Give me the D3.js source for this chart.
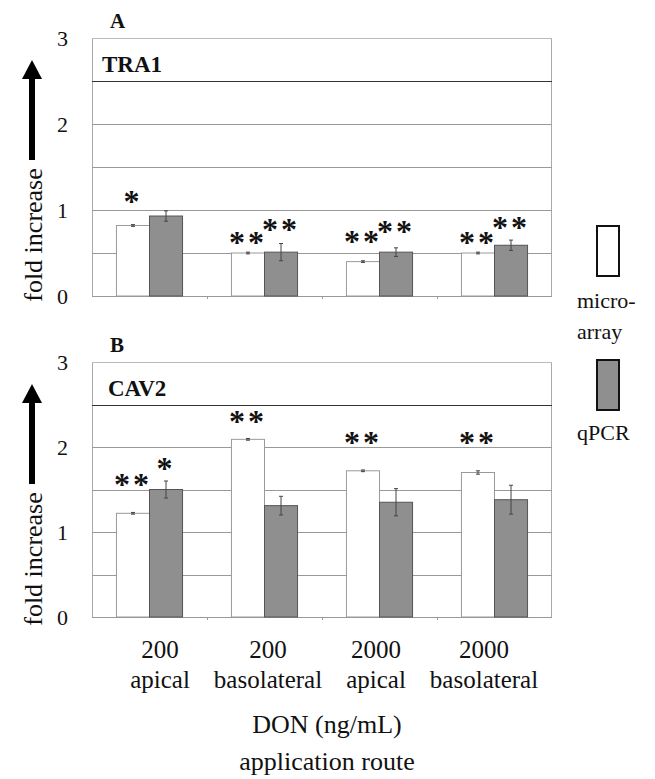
<!DOCTYPE html>
<html><head><meta charset="utf-8">
<script src="https://cdn.jsdelivr.net/npm/d3@7"></script>
<style>body{margin:0;background:#fff}svg{display:block}</style>
</head><body>
<script>
const categories = ["200|apical","200|basolateral","2000|apical","2000|basolateral"];
const series = ["micro-array","qPCR"];
const yTicks = [0,1,2,3];
const gridValues = [0.5,1,1.5,2,2.5,3];
// Panel A: TRA1
const microA = [0.82,0.50,0.40,0.50];
const microErrA = [0.01,0.01,0.01,0.01];
const qpcrA = [0.93,0.51,0.51,0.59];
const qpcrErrA = [0.06,0.10,0.05,0.06];
const sigMicroA = ["*","**","**","**"];
const sigMicroYA = [1.15,0.67,0.69,0.67];
const sigQpcrA = ["","**","**","**"];
const sigQpcrYA = [0,0.83,0.80,0.85];
// Panel B: CAV2
const microB = [1.22,2.09,1.72,1.70];
const microErrB = [0.01,0.01,0.01,0.02];
const qpcrB = [1.50,1.31,1.35,1.38];
const qpcrErrB = [0.10,0.11,0.16,0.17];
const sigMicroB = ["**","**","**","**"];
const sigMicroYB = [1.61,2.35,2.11,2.11];
const sigQpcrB = ["*","","",""];
const sigQpcrYB = [1.80,0,0,0];

const FONT = '"Liberation Serif"';
const W=655,H=779;
const svg=d3.select("body").append("svg").attr("width",W).attr("height",H);
const T=(sel)=>sel.style("font-family",FONT).attr("fill","#111");
const x=d3.scaleBand().domain(categories).range([92,552]);
const xs=d3.scaleBand().domain(series).range([0,x.bandwidth()]).paddingOuter(0.74);
const xLab=d3.scalePoint().domain(categories).range([160,484]);
const fills={"micro-array":"#ffffff","qPCR":"#8f8f8f"};
const strokes={"micro-array":"#9a9a9a","qPCR":"#555"};

const panels=[
 {letter:"A",gene:"TRA1",top:38,bottom:296,geneX:102,micro:microA,microErr:microErrA,qpcr:qpcrA,qpcrErr:qpcrErrA,sm:sigMicroA,smy:sigMicroYA,sq:sigQpcrA,sqy:sigQpcrYA},
 {letter:"B",gene:"CAV2",top:362,bottom:617,geneX:108,micro:microB,microErr:microErrB,qpcr:qpcrB,qpcrErr:qpcrErrB,sm:sigMicroB,smy:sigMicroYB,sq:sigQpcrB,sqy:sigQpcrYB}
];

panels.forEach(p=>{
  const y=d3.scaleLinear().domain([0,3]).range([p.bottom,p.top]);
  const g=svg.append("g");
  g.append("line").attr("x1",92.5).attr("x2",92.5).attr("y1",p.top).attr("y2",p.bottom).attr("stroke","#aaa");
  g.append("line").attr("x1",551.5).attr("x2",551.5).attr("y1",p.top).attr("y2",p.bottom).attr("stroke","#aaa");
  g.selectAll(".grid").data(gridValues).join("line")
    .attr("x1",92).attr("x2",552).attr("y1",d=>Math.round(y(d))+0.5).attr("y2",d=>Math.round(y(d))+0.5)
    .attr("stroke",d=>d===2.5?"#333":(d===3?"#bbb":"#999")).attr("stroke-width",1);
  g.append("line").attr("x1",92).attr("x2",552).attr("y1",p.bottom+0.5).attr("y2",p.bottom+0.5).attr("stroke","#999");
  g.selectAll(".xt").data(categories.slice(1)).join("line")
    .attr("x1",d=>x(d)+0.5).attr("x2",d=>x(d)+0.5).attr("y1",p.bottom).attr("y2",p.bottom+3).attr("stroke","#999");
  const ax=g.append("g").attr("transform","translate(68,0)").call(d3.axisLeft(y).tickValues(yTicks).tickSize(0).tickPadding(0).tickFormat(d3.format("d")));
  ax.attr("font-family",null).attr("font-size",null);
  ax.select(".domain").remove();
  T(ax.selectAll("text")).attr("font-size",22).attr("dy","0.36em");
  const rows=categories.map((c,i)=>[{c,s:"micro-array",v:p.micro[i],e:p.microErr[i],sig:p.sm[i],sy:p.smy[i]},{c,s:"qPCR",v:p.qpcr[i],e:p.qpcrErr[i],sig:p.sq[i],sy:p.sqy[i]}]).flat();
  g.selectAll(".bar").data(rows).join("rect")
    .attr("x",d=>x(d.c)+xs(d.s)).attr("width",xs.bandwidth())
    .attr("y",d=>y(d.v)).attr("height",d=>y(0)-y(d.v))
    .attr("fill",d=>fills[d.s]).attr("stroke",d=>strokes[d.s]).attr("stroke-width",1);
  const eb=g.selectAll(".eb").data(rows).join("g").attr("stroke","#444").attr("stroke-width",1);
  const cx=d=>x(d.c)+xs(d.s)+xs.bandwidth()/2;
  eb.append("line").attr("x1",cx).attr("x2",cx).attr("y1",d=>y(d.v+d.e)).attr("y2",d=>y(d.v-d.e));
  [1,-1].forEach(sg=>eb.append("line").attr("x1",d=>cx(d)-2).attr("x2",d=>cx(d)+2)
    .attr("y1",d=>y(d.v+sg*d.e)).attr("y2",d=>y(d.v+sg*d.e)));
  T(g.selectAll(".sig").data(rows.filter(d=>d.sig)).join("text"))
    .attr("x",cx).attr("y",d=>y(d.sy)+15)
    .attr("text-anchor","middle").attr("font-size",32).attr("font-weight","bold").attr("letter-spacing",3)
    .text(d=>d.sig);
  T(g.append("text")).attr("x",110).attr("y",p.top-10).attr("font-size",21).attr("font-weight","bold").text(p.letter);
  T(g.append("text")).attr("x",p.geneX).attr("y",p.top+34).attr("font-size",23).attr("font-weight","bold").text(p.gene);
  const cy=p.top+197;
  T(g.append("text")).attr("transform",`translate(42,${cy}) rotate(-90)`).attr("text-anchor","middle").attr("font-size",26).text("fold increase");
  g.append("rect").attr("x",29).attr("y",p.top+38).attr("width",6).attr("height",84).attr("fill","#000");
  g.append("path").attr("d",`M32,${p.top+22} L42,${p.top+41} L22,${p.top+41} Z`).attr("fill","#000");
});

const xl=svg.append("g");
T(xl.selectAll(".l1").data(categories).join("text")).attr("x",d=>xLab(d)).attr("y",658).attr("text-anchor","middle").attr("font-size",25).text(d=>d.split("|")[0]);
T(xl.selectAll(".l2").data(categories).join("text")).attr("x",d=>xLab(d)).attr("y",688).attr("text-anchor","middle").attr("font-size",25).text(d=>d.split("|")[1]);
T(svg.append("text")).attr("x",327).attr("y",733).attr("text-anchor","middle").attr("font-size",26).text("DON (ng/mL)");
T(svg.append("text")).attr("x",327).attr("y",770).attr("text-anchor","middle").attr("font-size",26).text("application route");

const lg=svg.append("g");
lg.append("rect").attr("x",597).attr("y",226).attr("width",22).attr("height",50).attr("fill",fills["micro-array"]).attr("stroke","#111").attr("stroke-width",2);
T(lg.append("text")).attr("x",577).attr("y",308).attr("font-size",22).text("micro-");
T(lg.append("text")).attr("x",577).attr("y",339).attr("font-size",22).text("array");
lg.append("rect").attr("x",597).attr("y",360).attr("width",22).attr("height",50).attr("fill",fills["qPCR"]).attr("stroke","#111").attr("stroke-width",2);
T(lg.append("text")).attr("x",577).attr("y",440).attr("font-size",22).text("qPCR");
</script>
</body></html>
